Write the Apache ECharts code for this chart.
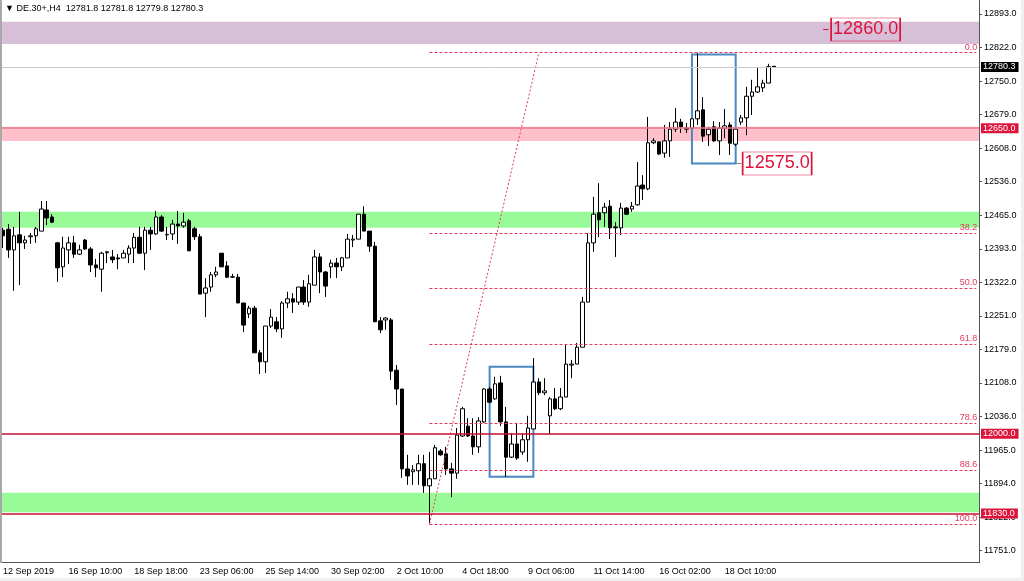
<!DOCTYPE html>
<html><head><meta charset="utf-8">
<script src="https://cdn.jsdelivr.net/npm/echarts@6/dist/echarts.min.js"></script>
<style>html,body{margin:0;padding:0;background:#fff}#c{width:1024px;height:581px}</style>
</head><body><div id="c"></div>
<script>
// ---------- data ----------
const xLabels = ['12 Sep 2019','16 Sep 10:00','18 Sep 18:00','23 Sep 06:00','25 Sep 14:00','30 Sep 02:00','2 Oct 10:00','4 Oct 18:00','9 Oct 06:00','11 Oct 14:00','16 Oct 02:00','18 Oct 10:00'];
const yTickValues = [11751,11822.375,11893.75,11965.125,12036.5,12107.875,12179.25,12250.625,12322,12393.375,12464.75,12536.125,12607.5,12678.875,12750.25,12821.625,12893];
const yTickLabels = ['11751.0','11822.0','11894.0','11965.0','12036.0','12108.0','12179.0','12251.0','12322.0','12393.0','12465.0','12536.0','12608.0','12679.0','12750.0','12822.0','12893.0'];

const opens = [12433,12435,12391,12423,12406,12419,12421,12431,12476,12461,12406,12355,12391,12406,12382,12412,12393,12359,12350,12385,12376,12374,12374,12382,12395,12418,12384,12433,12425,12461,12423,12425,12446,12442,12453,12436,12419,12299,12312,12338,12384,12357,12333,12333,12278,12255,12267,12172,12153,12229,12238,12223,12278,12287,12280,12312,12280,12316,12376,12344,12355,12363,12355,12374,12412,12414,12467,12431,12399,12240,12242,12242,12135,12095,11925,11919,11921,11936,11889,11904,11963,11957,11925,11916,11995,12016,11995,11972,12025,12095,12074,12108,12025,11950,11978,11961,11987,12010,12110,12087,12038,12074,12053,12078,12146,12148,12184,12280,12406,12470,12470,12484,12440,12438,12480,12478,12487,12529,12521,12619,12621,12597,12623,12648,12663,12650,12650,12670,12689,12636,12653,12623,12650,12657,12616,12663,12672,12718,12727,12736,12746,12781.8];
const closes = [12421,12391,12421,12406,12412,12421,12436,12478,12459,12450,12353,12395,12406,12382,12391,12393,12359,12353,12384,12387,12370,12372,12384,12395,12418,12384,12433,12425,12461,12431,12424,12446,12442,12450,12389,12419,12297,12310,12338,12344,12355,12333,12334,12278,12231,12267,12172,12153,12229,12248,12223,12278,12287,12280,12312,12280,12319,12376,12344,12314,12363,12355,12374,12414,12414,12467,12431,12399,12238,12221,12246,12133,12095,11925,11910,11923,11936,11889,11904,11970,11955,11925,11916,11997,12053,11995,11972,12027,12095,12067,12106,12025,11950,11978,11948,11987,12012,12110,12087,12091,12074,12053,12078,12148,12148,12184,12280,12406,12467,12455,12482,12438,12438,12480,12467,12484,12527,12521,12619,12623,12595,12623,12648,12663,12653,12648,12670,12687,12633,12648,12623,12650,12655,12618,12648,12672,12718,12727,12738,12746,12781,12780.3];
const lows = [12395,12374,12304,12316,12393,12404,12406,12431,12444,12448,12323,12333,12361,12374,12380,12391,12344,12333,12302,12363,12363,12350,12374,12363,12363,12382,12348,12391,12423,12429,12412,12412,12404,12438,12389,12412,12297,12248,12302,12333,12355,12331,12331,12278,12216,12246,12172,12127,12129,12225,12216,12204,12267,12257,12274,12274,12270,12316,12299,12291,12331,12331,12346,12374,12397,12414,12431,12387,12238,12214,12221,12114,12061,11906,11891,11891,11891,11874,11808,11904,11953,11912,11865,11904,11993,11993,11955,11959,12023,12065,12072,12016,11908,11948,11944,11955,11940,12010,12082,12082,11999,12050,12050,12078,12118,12148,12184,12280,12387,12418,12440,12414,12376,12423,12465,12472,12485,12497,12518,12616,12593,12587,12589,12642,12640,12640,12650,12657,12621,12612,12621,12593,12629,12593,12612,12657,12635,12678,12725,12727,12746,12779.8];
const highs = [12438,12446,12440,12472,12421,12427,12440,12495,12495,12467,12408,12419,12419,12421,12402,12414,12397,12372,12387,12389,12391,12382,12391,12401,12427,12440,12440,12440,12474,12465,12440,12455,12474,12470,12457,12440,12425,12331,12344,12355,12384,12367,12340,12340,12278,12272,12272,12178,12229,12265,12248,12282,12302,12299,12312,12327,12338,12391,12384,12346,12370,12374,12376,12425,12423,12467,12484,12431,12408,12248,12248,12246,12146,12095,11955,11933,11955,11955,11961,11976,11967,11972,11938,12012,12057,12033,12033,12035,12097,12099,12121,12123,12057,12001,12023,12001,12038,12161,12118,12118,12078,12097,12097,12189,12157,12193,12291,12427,12504,12533,12491,12497,12450,12491,12482,12493,12578,12550,12674,12629,12621,12657,12663,12693,12670,12661,12670,12810,12716,12653,12665,12663,12691,12663,12648,12678,12738,12753,12778,12753,12787,12781.8];

// levels / zones
const currentPrice = 12780.3;
const redLevels = [12650, 12000, 11830];
const zonePurple = [12876.6, 12829];
const zonePink = [12653, 12623];
const zoneGreenHigh = [12472.4, 12438.3];
const zoneGreenLow = [11874.4, 11832.7];
const fibHigh = 12810.6, fibLow = 11807.7;
const fibLevels = [0, 38.2, 50, 61.8, 78.6, 88.6, 100];
const fibStartBar = 78, fibAnchorBar = 98;
const boxA = {from: 89, to: 97, top: 12142.5, bottom: 11908.5};
const boxB = {from: 126, to: 134, top: 12807, bottom: 12575};
const noteTop = 12860.0, noteBottom = 12575.0;

// ---------- chart ----------
const N = 179;
const cats = Array.from({length: N}, (_, i) => String(i));
const candles = opens.map((o, i) => [o, closes[i], lows[i], highs[i]]);
const RED = '#dc143c';
const FIB = '#e23a5c';
const FONT = 'Liberation Sans';
const isLabelIdx = (i) => i % 12 === 0 && i / 12 < xLabels.length;

const chart = echarts.init(document.getElementById('c'));
const fibPairs = fibLevels.map(l => {
  const v = fibHigh - (fibHigh - fibLow) * l / 100;
  return [{coord: [fibStartBar, v]}, {coord: [N - 1, v],
    label: {show: true, position: 'insideEndTop', formatter: l.toFixed(1), color: FIB, fontSize: 9, fontFamily: FONT, distance: [-1, 1]}}];
});
const lineColors = {12650: '#e8788c', 12000: '#c4102c', 11830: '#c4102c'};

chart.setOption({
  animation: false,
  backgroundColor: '#ffffff',
  grid: {left: 0, right: 45, top: 0, bottom: 18.3},
  xAxis: {
    type: 'category', data: cats, boundaryGap: true,
    axisLine: {lineStyle: {color: '#555', width: 1}},
    axisTick: {alignWithLabel: true, interval: (i) => isLabelIdx(i), length: 3, lineStyle: {color: '#555'}},
    axisLabel: {interval: (i) => isLabelIdx(i), formatter: (v, i) => xLabels[Math.round(i / 12)] || '',
      align: 'left', color: '#000', fontSize: 9, fontFamily: FONT, margin: 4},
    splitLine: {show: false}
  },
  yAxis: {
    type: 'value', position: 'right', min: 11725.4, max: 12922.8, scale: true,
    axisLine: {show: true, lineStyle: {color: '#555'}},
    axisTick: {show: true, customValues: yTickValues, length: 3, lineStyle: {color: '#555'}},
    axisLabel: {customValues: yTickValues, formatter: (v) => {
      let bi = 0, bd = 1e9; yTickValues.forEach((t, k) => { const d = Math.abs(t - v); if (d < bd) { bd = d; bi = k; } });
      return yTickLabels[bi]; }, color: '#000', fontSize: 9, fontFamily: FONT, margin: 5},
    splitLine: {show: false}
  },
  series: [
    {type: 'line', data: [], z: 1, silent: true,
      markArea: {silent: true, data: [
        [{yAxis: zonePurple[0], itemStyle: {color: '#d8bfd8'}}, {yAxis: zonePurple[1]}],
        [{yAxis: zonePink[0], itemStyle: {color: '#ffc0cb'}}, {yAxis: zonePink[1]}],
        [{yAxis: zoneGreenHigh[0], itemStyle: {color: '#98fb98'}}, {yAxis: zoneGreenHigh[1]}],
        [{yAxis: zoneGreenLow[0], itemStyle: {color: '#98fb98'}}, {yAxis: zoneGreenLow[1]}]
      ]}},
    {type: 'line', data: [], z: 2, silent: true,
      markLine: {silent: true, symbol: ['none', 'none'], lineStyle: {color: FIB, type: [3, 2], width: 1},
        label: {show: false},
        data: fibPairs.concat([[{coord: [fibStartBar, fibLow]}, {coord: [fibAnchorBar, fibHigh]}]].map(p => {
          p[0].lineStyle = {type: [2, 2], color: FIB, width: 1}; return p; }))}},
    {type: 'candlestick', data: candles, z: 3, barWidth: 4,
      itemStyle: {color: '#ffffff', color0: '#000000', borderColor: '#000000', borderColor0: '#000000', borderWidth: 1}},
    {type: 'line', data: [], z: 4, silent: true,
      markLine: {silent: true, symbol: ['none', 'none'],
        label: {show: true, position: 'end', distance: 2, fontSize: 9, fontFamily: FONT, color: '#fff', padding: [1, 3, 0, 2]},
        data: [
          {yAxis: currentPrice, lineStyle: {color: '#c8c8c8', type: 'solid', width: 1},
            label: {formatter: currentPrice.toFixed(1), backgroundColor: '#000'}},
          ...redLevels.map(v => ({yAxis: v, lineStyle: {color: lineColors[v], type: 'solid', width: 1.5, opacity: 1},
            label: {formatter: v.toFixed(1), backgroundColor: RED}}))
        ]}},
    {type: 'line', data: [], z: 5, silent: true,
      markArea: {silent: true, itemStyle: {color: 'rgba(0,0,0,0)', borderColor: '#4a88c2', borderWidth: 2},
        data: [
          [{coord: [boxA.from, boxA.top]}, {coord: [boxA.to, boxA.bottom]}],
          [{coord: [boxB.from, boxB.top]}, {coord: [boxB.to, boxB.bottom]}]
        ]},
      markLine: {silent: true, symbol: ['none', 'none'], label: {show: false},
        data: [
          [{coord: [150, noteTop], lineStyle: {color: RED, type: 'solid', width: 1}}, {coord: [151, noteTop]}],
          [{coord: [boxB.to, noteBottom], lineStyle: {color: '#888', type: 'solid', width: 1}}, {coord: [boxB.to + 1, noteBottom]}]
        ]},
      markPoint: {silent: true, symbol: 'rect', symbolSize: [69, 23],
        itemStyle: {color: 'rgba(255,255,255,0)', borderColor: RED, borderWidth: 1},
        label: {show: true, position: 'inside', color: RED, fontSize: 18, fontFamily: FONT},
        data: [
          {coord: [151, noteTop], symbolOffset: [37, 0], label: {formatter: noteTop.toFixed(1)}},
          {coord: [135, noteBottom], symbolOffset: [36, 0], label: {formatter: noteBottom.toFixed(1)}}
        ]}}
  ],
  graphic: [
    {type: 'rect', left: 0, top: 0, shape: {width: 2, height: 563}, style: {fill: '#a8a8a8'}, z: 10},
    {type: 'rect', left: 0, top: 578, shape: {width: 1024, height: 3}, style: {fill: '#f0f0f0'}, z: 10},
    {type: 'rect', left: 1021, top: 0, shape: {width: 3, height: 581}, style: {fill: '#f0f0f0'}, z: 10},
    {type: 'text', left: 5, top: 4, z: 10, style: {text: '\u25BC DE.30+,H4  12781.8 12781.8 12779.8 12780.3', fill: '#000', font: '9px "Liberation Sans"'}}
  ]
});
</script></body></html>
